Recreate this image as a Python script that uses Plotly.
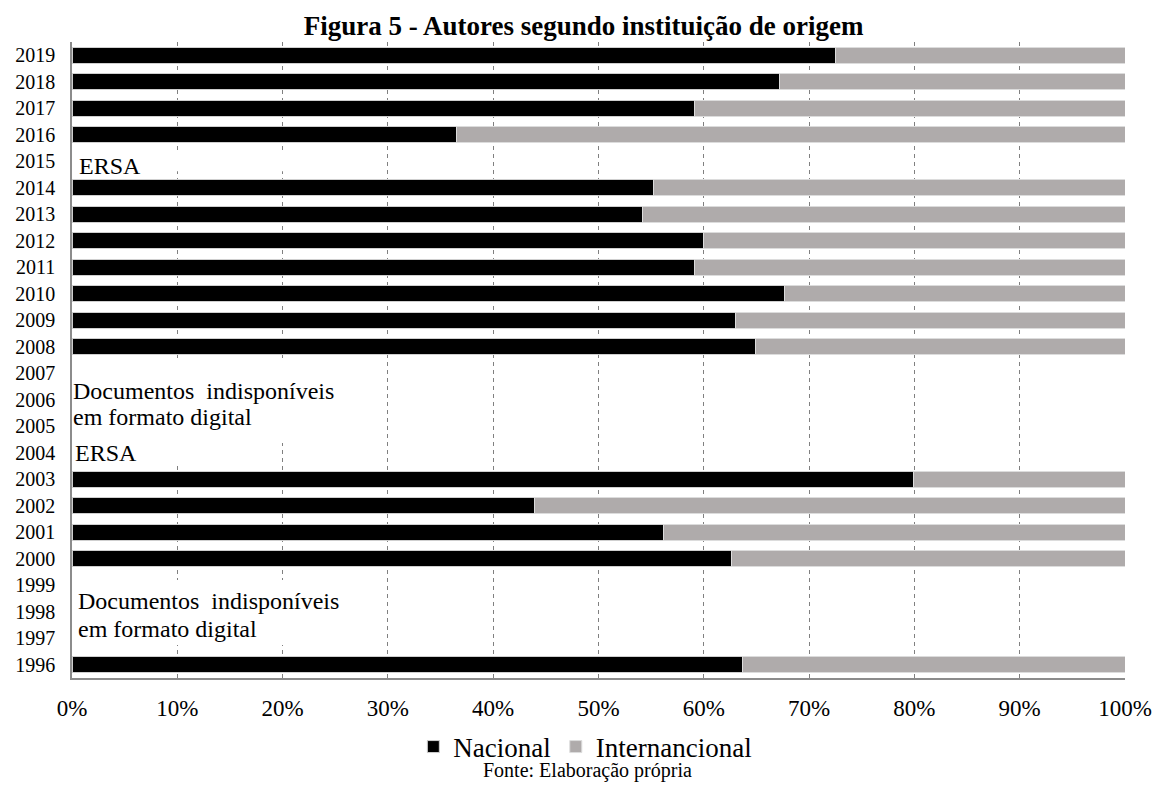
import plotly.graph_objects as go

years = [str(y) for y in range(1996, 2020)]
# Nacional share (%) per year; None = no data (ERSA / documents unavailable)
nacional = [63.7, None, None, None, 62.6, 56.2, 43.9, 79.9, None, None, None, None,
            64.9, 63.0, 67.7, 59.1, 60.0, 54.2, 55.2, None, 36.5, 59.1, 67.2, 72.5]
internacional = [36.3, None, None, None, 37.4, 43.8, 56.1, 20.1, None, None, None, None,
                 35.1, 37.0, 32.3, 40.9, 40.0, 45.8, 44.8, None, 63.5, 40.9, 32.8, 27.5]
x_ticks = list(range(0, 101, 10))
x_tick_labels = [f"{v}%" for v in x_ticks]

FONT = "Liberation Serif"
W, H = 1156, 785

fig = go.Figure()
fig.add_trace(go.Bar(y=years, x=nacional, name="Nacional", orientation="h",
                     marker=dict(color="#000000", line=dict(color="#cfcfcf", width=1))))
fig.add_trace(go.Bar(y=years, x=internacional, name="Internancional", orientation="h",
                     marker=dict(color="#afabab", line=dict(color="#dcdcdc", width=1))))

def note(text, x, y):
    fig.add_annotation(text=text, x=x, y=y, xref="x", yref="y", xanchor="left",
                       yanchor="middle", showarrow=False, align="left", borderpad=0,
                       font=dict(family=FONT, size=24, color="black"))

def blank(x1, y0, y1):
    # white text-box background hiding the gridlines (drawn under the bars)
    fig.add_shape(type="rect", xref="x", yref="y", x0=0.15, x1=x1, y0=y0, y1=y1,
                  fillcolor="white", line=dict(width=0), layer="between")

blank(21, 18.62, 19.38)
blank(25, 8.37, 11.42)
blank(12, 7.65, 8.37)
blank(25, 0.75, 3.2)

note("ERSA", 0.6, 18.81)
note("Documentos  indisponíveis", 0.0, 10.32)
note("em formato digital", 0.0, 9.35)
note("ERSA", 0.15, 7.99)
note("Documentos  indisponíveis", 0.5, 2.39)
note("em formato digital", 0.5, 1.36)

fig.add_annotation(text="Fonte: Elaboração própria", xref="paper", yref="paper",
                   x=0.49, y=-0.146, xanchor="center", yanchor="middle", showarrow=False,
                   font=dict(family=FONT, size=20, color="black"))

fig.update_layout(
    barmode="stack",
    bargap=0.4,
    width=W, height=H,
    margin=dict(l=72, r=31, t=42, b=107, autoexpand=False),
    paper_bgcolor="white", plot_bgcolor="white",
    title=dict(text="<b>Figura 5 - Autores segundo instituição de origem</b>",
               x=0.5048, xref="container", xanchor="center",
               y=1 - 26 / H, yref="container", yanchor="middle",
               font=dict(family=FONT, size=27, color="black")),
    legend=dict(orientation="h", x=0.4875, xanchor="center", y=-0.07, yanchor="top",
                font=dict(family=FONT, size=27, color="black"),
                itemwidth=30, traceorder="normal", bgcolor="rgba(0,0,0,0)"),
    xaxis=dict(range=[0, 100], tickvals=x_ticks, ticktext=x_tick_labels,
               showgrid=True, gridcolor="#808080", griddash="4px,4px", gridwidth=1,
               zeroline=False, showline=True, linecolor="#8c8c8c", linewidth=1.5,
               ticks="", ticklabelstandoff=9, fixedrange=True, automargin=False,
               ticklabeloverflow="allow",
               tickfont=dict(family=FONT, size=23, color="black")),
    yaxis=dict(type="category", categoryorder="array", categoryarray=years,
               range=[-0.5, len(years) - 0.5], showgrid=False, zeroline=False,
               showline=True, linecolor="#8c8c8c", linewidth=1.5, ticks="",
               ticklabelstandoff=11, automargin=False,
               tickfont=dict(family=FONT, size=20, color="black")),
)

# remove the default 8px page margin so the 1156x785 figure fills the window exactly
fig.write_html("out.html", config={"displayModeBar": False},
               post_script="document.body.style.margin='0';")
